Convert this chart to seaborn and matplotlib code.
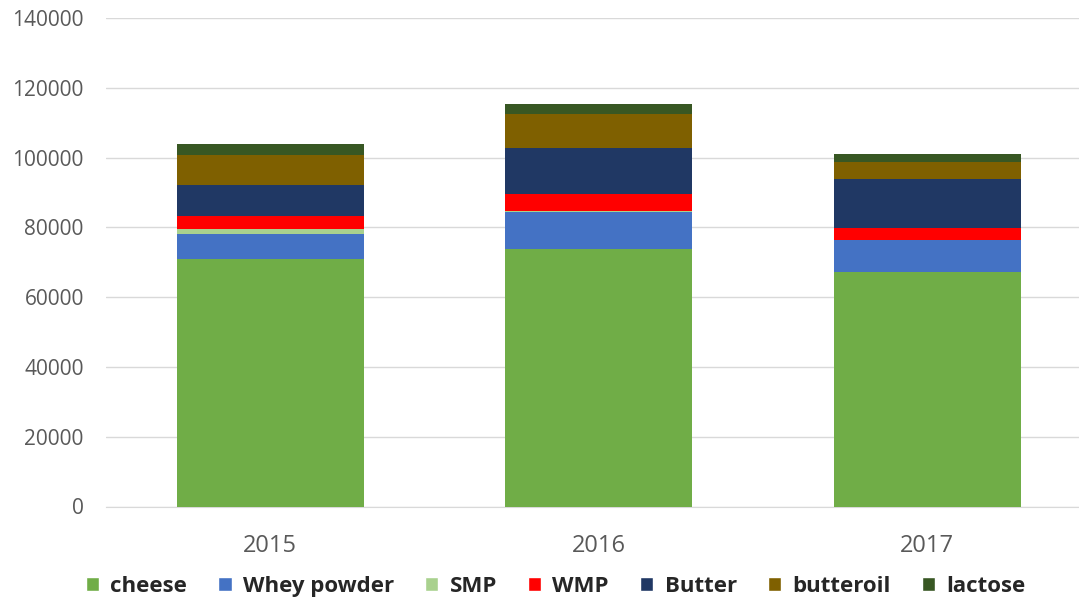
import matplotlib
matplotlib.use('Agg')
import matplotlib.pyplot as plt
import seaborn as sns
import numpy as np
import pandas as pd
from matplotlib.patches import Patch

years = ['2015', '2016', '2017']
products = ['cheese', 'Whey powder', 'SMP', 'WMP', 'Butter', 'butteroil', 'lactose']
colors = ['#70AD47', '#4472C4', '#A9D18E', '#FF0000', '#203864', '#7F6000', '#385723']

cheese = [71000, 73800, 67200]
whey_powder = [7070, 10700, 9100]
smp = [1340, 200, 0]
wmp = [3910, 4950, 3500]
butter = [8790, 13200, 14000]
butteroil = [8680, 9550, 4900]
lactose = [3070, 2950, 2200]

df = pd.DataFrame({'Year': years, 'cheese': cheese, 'Whey powder': whey_powder,
                   'SMP': smp, 'WMP': wmp, 'Butter': butter,
                   'butteroil': butteroil, 'lactose': lactose})
cum = df[products].cumsum(axis=1)

sns.set_style('white')
plt.rcParams['font.family'] = ['Open Sans', 'DejaVu Sans']

fig = plt.figure(figsize=(10.79, 6.01), dpi=100)
ax = fig.add_axes([106 / 1079, 1 - 506.5 / 601, 985.5 / 1079, (506.5 - 18) / 601])

# draw from the top layer down so every segment shows
for name, col in zip(products[::-1], colors[::-1]):
    sns.barplot(x=df['Year'], y=cum[name], color=col, width=0.57,
                saturation=1, ax=ax, zorder=3, linewidth=0)

ax.set_ylim(0, 140000)
ax.set_xlim(-0.5, 2.5)
ax.set_yticks(np.arange(0, 140001, 20000))
ax.yaxis.grid(True, color='#D9D9D9', linewidth=1, zorder=0)
ax.set_axisbelow(True)
for s in ['top', 'right', 'left']:
    ax.spines[s].set_visible(False)
ax.spines['bottom'].set_color('#D9D9D9')
ax.tick_params(axis='both', length=0, labelsize=15, colors='#595959')
ax.tick_params(axis='y', pad=16)
ax.tick_params(axis='x', pad=20, labelsize=17)
ax.set_xlabel('')
ax.set_ylabel('')

handles = [Patch(facecolor=c, label=p) for p, c in zip(products, colors)]
fig.legend(handles=handles, loc='center', bbox_to_anchor=(0.515, 0.024), ncol=7,
           frameon=False, prop={'size': 16, 'weight': 'bold'},
           handlelength=0.6, handleheight=0.6, handletextpad=0.5, columnspacing=1.4,
           labelcolor='#262626')

plt.savefig('out.png', dpi=100)
